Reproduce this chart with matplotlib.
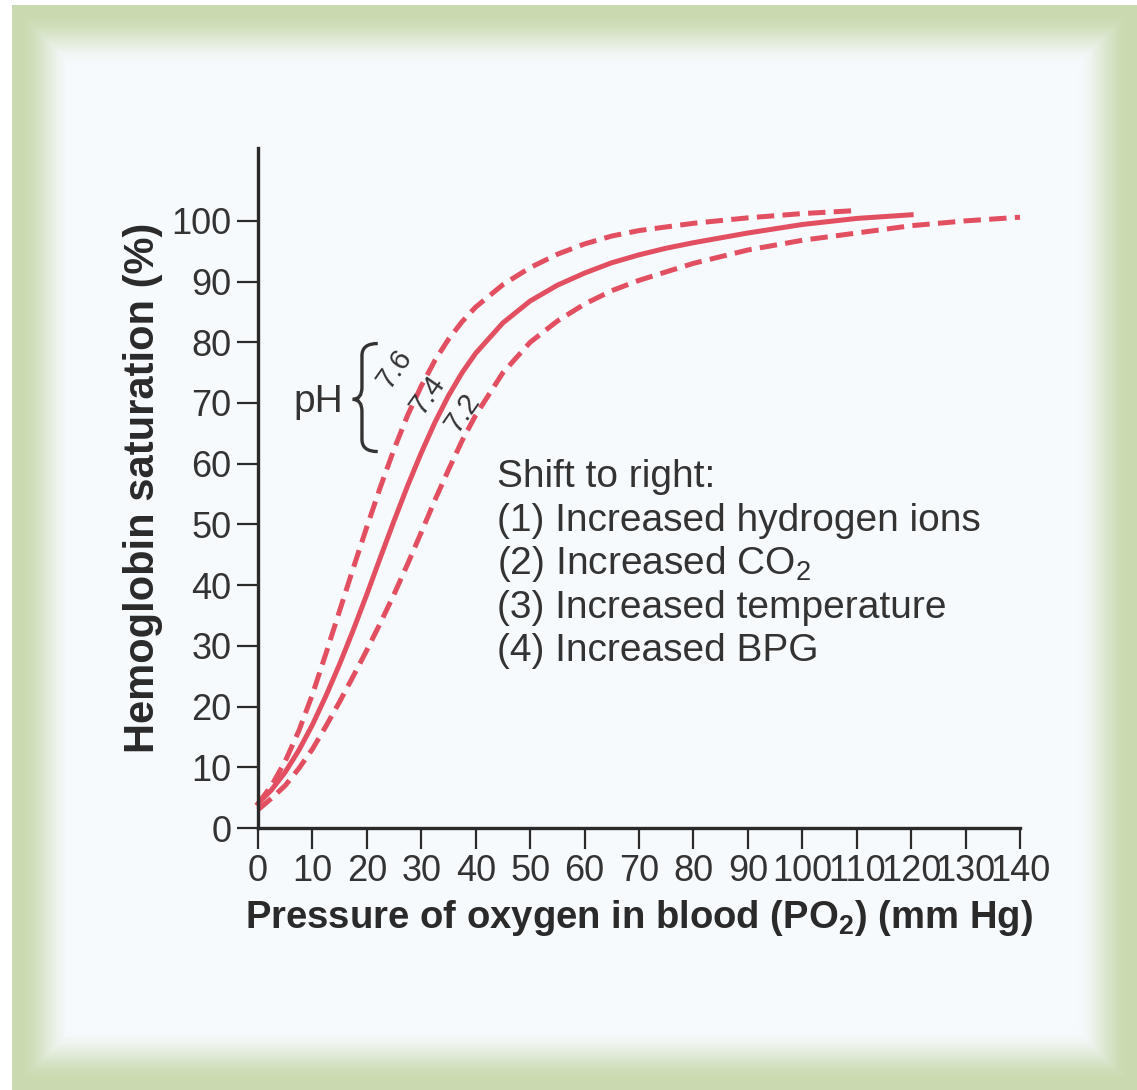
import numpy as np
import matplotlib
matplotlib.use("Agg")
import matplotlib.pyplot as plt
from matplotlib.path import Path
from matplotlib.patches import PathPatch

plt.rcParams['font.family'] = ['Liberation Sans', 'DejaVu Sans']
plt.rcParams['mathtext.fontset'] = 'custom'
plt.rcParams['mathtext.rm'] = 'Liberation Sans'
plt.rcParams['mathtext.bf'] = 'Liberation Sans:bold'
plt.rcParams['lines.scale_dashes'] = False

# PO2 (mm Hg) and saturation (%)
po2_74 = [0, 2.5, 5, 7.5, 10, 12.5, 15, 17.5, 20, 22.5, 25, 27.5, 30, 32.5, 35, 37.5, 40,
          45, 50, 55, 60, 65, 70, 75, 80, 90, 100, 110, 120]
sat_74 = [4, 6.3, 9.2, 12.8, 17, 21.8, 27, 32.6, 38.5, 44.6, 50.6, 56.4, 61.8, 66.8, 71.2, 75, 78.2,
          83.2, 86.8, 89.4, 91.4, 93.1, 94.4, 95.5, 96.4, 98, 99.4, 100.4, 101]

po2_76 = [0, 2.5, 5, 7.5, 10, 12.5, 15, 17.5, 20, 22.5, 25, 27.5, 30, 32.5, 35, 37.5, 40,
          45, 50, 55, 60, 65, 70, 80, 90, 100, 110]
sat_76 = [4, 7, 11, 16, 22, 28.8, 35.8, 42.8, 49.6, 56.2, 62.4, 68, 72.8, 77, 80.5, 83.4, 85.8,
          89.5, 92.3, 94.5, 96.2, 97.5, 98.4, 99.6, 100.5, 101.2, 101.7]

po2_72 = [0, 2.5, 5, 7.5, 10, 12.5, 15, 17.5, 20, 22.5, 25, 27.5, 30, 32.5, 35, 37.5, 40,
          45, 50, 55, 60, 65, 70, 80, 90, 100, 110, 120, 130, 140]
sat_72 = [3, 4.9, 7, 9.8, 13, 16.8, 20.8, 25, 29.3, 33.8, 38.5, 43.5, 48.7, 54, 59, 63.8, 68,
          75, 80, 83.5, 86.3, 88.5, 90.2, 93, 95.2, 96.8, 98, 99.2, 100, 100.6]

x_ticks = list(range(0, 141, 10))
y_ticks = list(range(0, 101, 10))
shift_lines = ["Shift to right:",
               "(1) Increased hydrogen ions",
               "(2) Increased CO$_2$",
               "(3) Increased temperature",
               "(4) Increased BPG"]

red = '#e24f61'
ink = '#2a2a2a'
grey = '#333333'

W, H = 1137, 1090
fig = plt.figure(figsize=(W / 100, H / 100), dpi=100)

# green frame fading into the pale panel
bg = fig.add_axes([0, 0, 1, 1])
yy, xx = np.mgrid[0:H, 0:W]
d = np.minimum.reduce([(xx - 12) / 1.0, (yy - 5) / 1.0, (W - 1 - xx) / 1.0, (H - 1 - yy) / 1.0])
t = np.clip((d - 8) / 52.0, 0, 1)
t = t * t * (3 - 2 * t)
green = np.array([202, 218, 176]) / 255
panel = np.array([246, 250, 253]) / 255
img = green[None, None, :] * (1 - t[..., None]) + panel[None, None, :] * t[..., None]
outside = (xx < 12) | (yy < 5)
img[outside] = 1.0
bg.imshow(img, extent=[0, W, H, 0], aspect='auto', interpolation='bilinear')
bg.set_xlim(0, W)
bg.set_ylim(H, 0)
bg.axis('off')

ax = fig.add_axes([258 / W, 1 - 828 / H, 762 / W, (828 - 148) / H])
ax.patch.set_alpha(0)

ax.plot(po2_76, sat_76, color=red, lw=3.6, dashes=(12.5, 6), clip_on=False)
ax.plot(po2_74, sat_74, color=red, lw=3.6, clip_on=False)
ax.plot(po2_72, sat_72, color=red, lw=3.6, dashes=(12.5, 6), clip_on=False)

ax.set_xlim(0, 140)
ax.set_ylim(0, 112)
ax.set_xticks(x_ticks)
ax.set_yticks(y_ticks)
ax.tick_params(direction='out', length=15, width=1.6, color=ink,
               labelsize=26, labelcolor=grey, pad=4)
for s in ['top', 'right']:
    ax.spines[s].set_visible(False)
for s in ['left', 'bottom']:
    ax.spines[s].set_linewidth(2.4)
    ax.spines[s].set_color(ink)

ax.set_xlabel(r"Pressure of oxygen in blood (PO$_\mathbf{2}$) (mm Hg)",
              fontsize=27.5, fontweight='bold', color=ink, labelpad=6)
ax.set_ylabel("Hemoglobin saturation (%)", fontsize=30, fontweight='bold',
              color=ink, labelpad=6)

# pH brace and labels
ax.text(15.6, 70.2, "pH", fontsize=28, color=grey, ha='right', va='center')
bx0, bx1, ym, yt, yb = 17.4, 22.0, 70.6, 79.8, 62.0
verts = [(bx1, yt), (bx0 + 1.7, yt), (bx0 + 1.7, yt - 2), (bx0 + 1.7, ym + 2),
         (bx0 + 1.7, ym), (bx0, ym),
         (bx0 + 1.7, ym), (bx0 + 1.7, ym - 2), (bx0 + 1.7, yb + 2),
         (bx0 + 1.7, yb), (bx1, yb)]
codes = [Path.MOVETO, Path.CURVE3, Path.CURVE3, Path.LINETO,
         Path.CURVE3, Path.CURVE3,
         Path.CURVE3, Path.CURVE3, Path.LINETO,
         Path.CURVE3, Path.CURVE3]
ax.add_patch(PathPatch(Path(verts, codes), fill=False, lw=2.4, edgecolor=grey))

ph_labels = ["7.6", "7.4", "7.2"]
ph_pos = [(25.0, 75.6), (31.2, 71.4), (37.5, 68.4)]
for lab, (px, py) in zip(ph_labels, ph_pos):
    ax.text(px, py, lab, fontsize=21, color=grey, rotation=55,
            ha='center', va='center', rotation_mode='anchor')

shift_y = [57.8, 50.6, 43.4, 36.2, 29.2]
for txt, yv in zip(shift_lines, shift_y):
    ax.text(43.9, yv, txt, fontsize=28, color=grey, ha='left', va='center')

fig.savefig("out.png", dpi=100)
